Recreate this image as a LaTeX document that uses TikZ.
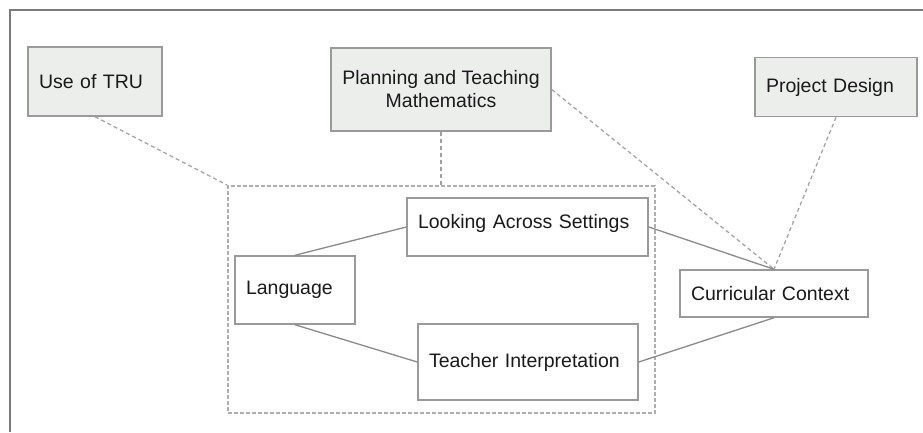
\documentclass[tikz,border=0pt]{standalone}
\usepackage{fontspec}
\setmainfont{Liberation Sans}
\definecolor{boxfill}{HTML}{ECEEEC}
\definecolor{boxline}{HTML}{9A9A9A}
\definecolor{connline}{HTML}{8A8A8A}
\definecolor{dashline}{HTML}{A0A0A0}
\definecolor{frameline}{HTML}{7A7A7A}
\definecolor{txt}{HTML}{1A1A1A}
\begin{document}
\begin{tikzpicture}[x=1pt,y=-1pt,
  every node/.style={font=\fontsize{19.5}{23}\selectfont, text=txt},
  topbox/.style={draw=boxline, line width=1.5pt, fill=boxfill, rectangle, inner ysep=0pt, inner xsep=11pt, align=left},
  plainbox/.style={draw=boxline, line width=1.5pt, fill=white, rectangle, inner ysep=0pt, inner xsep=11pt, align=left},
  conn/.style={draw=connline, line width=1.3pt},
  dconn/.style={draw=dashline, line width=1.2pt, dash pattern=on 4pt off 3pt},
  container/.style={draw=dashline!85, line width=2pt, dash pattern=on 4pt off 2pt, rectangle, inner sep=0pt}
]
\useasboundingbox (0,0) rectangle (923,432);
\fill[white] (0,0) rectangle (923,432);
% outer frame
\draw[frameline, line width=2pt] (10,432) -- (10,10) -- (923,10);

% container
\node[container, minimum width=427pt, minimum height=227pt] (cont) at (441.5,299.5) {};

% top boxes
\node[topbox, text width=112pt, minimum height=69pt] (tru) at (95,81.5) {Use of TRU};
\node[topbox, inner xsep=0pt, minimum width=220pt, minimum height=83pt, align=center] (plan) at (441,89.5) {Planning and Teaching\\Mathematics};
\node[topbox, text width=140pt, minimum height=59pt] (proj) at (836,87) {Project Design};

% inner boxes
\node[plainbox, text width=219pt, text height=30pt, text depth=28pt] (look) at (527.5,227) {Looking Across Settings};
\node[plainbox, text width=98pt, minimum height=68pt] (lang) at (295,290) {Language};
\node[plainbox, text width=198pt, minimum height=76pt] (teach) at (528,362) {Teacher Interpretation};
\node[plainbox, text width=166pt, minimum height=47pt] (curr) at (774,293.5) {Curricular Context};

% dashed connectors
\draw[dconn] (tru.south) -- (cont.north west);
\draw[dconn] (plan.south) -- (cont.north -| plan.south);
\draw[dconn] (plan.east) -- (curr.north);
\draw[dconn] (proj.south) -- (curr.north);

% solid connectors
\draw[conn] (lang.north) -- (look.west);
\draw[conn] (lang.south) -- (teach.west);
\draw[conn] (look.east) -- (curr.north);
\draw[conn] (teach.east) -- (curr.south);
\end{tikzpicture}
\end{document}
